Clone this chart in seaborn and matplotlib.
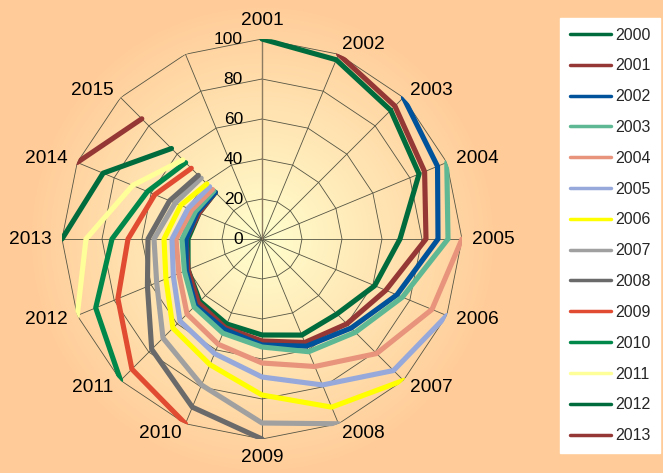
import numpy as np
import pandas as pd
import matplotlib
matplotlib.use('Agg')
import matplotlib.pyplot as plt
import matplotlib.transforms as mtransforms
from matplotlib.lines import Line2D
import seaborn as sns

# spokes of the radar, clockwise from the top (last spoke has no label)
categories = ['2001', '2002', '2003', '2004', '2005', '2006', '2007', '2008',
              '2009', '2010', '2011', '2012', '2013', '2014', '2015', '']
cohorts = ['2000', '2001', '2002', '2003', '2004', '2005', '2006',
           '2007', '2008', '2009', '2010', '2011', '2012', '2013']
colors = ['#006B3C', '#953735', '#00529B', '#5DB893', '#E8937C', '#97A9DA',
          '#FFFF00', '#A0A0A0', '#6A6A6A', '#E04B32', '#00874A', '#FFFF99',
          '#006B3C', '#953735']
ring_ticks = [0, 20, 40, 60, 80, 100]

# each cohort starts on the spoke after its own year
v2000 = [100, 97, 91, 85, 69, 61, 53, 52, 48, 46, 44, 40, 37, 34, 33]
v2001 = [100, 94, 88, 82, 67, 60, 56, 51, 48, 45, 40, 38, 34, 33]
v2002 = [100, 95, 88, 73, 63, 58, 53, 49, 47, 41, 38, 35, 33]
v2003 = [100, 93, 76, 66, 61, 54, 51, 48, 42, 40, 36, 34]
v2004 = [100, 92, 81, 69, 62, 57, 53, 45, 43, 38, 35]
v2005 = [100, 93, 79, 69, 62, 58, 48, 45, 40, 37]
v2006 = [100, 91, 78, 68, 63, 52, 49, 44, 39]
v2007 = [100, 92, 79, 70, 57, 54, 47, 43]
v2008 = [100, 91, 78, 62, 57, 50, 45]
v2009 = [100, 92, 78, 67, 58, 50]
v2010 = [100, 90, 75, 62, 54]
v2011 = [100, 88, 70, 56]
v2012 = [100, 86, 64]
v2013 = [100, 85]

series = [v2000, v2001, v2002, v2003, v2004, v2005, v2006,
          v2007, v2008, v2009, v2010, v2011, v2012, v2013]

angles = np.deg2rad(np.arange(len(categories)) * 360.0 / len(categories))

rows = []
for i, (name, vals) in enumerate(zip(cohorts, series)):
    for j, v in enumerate(vals):
        rows.append({'cohort': name, 'theta': angles[i + j], 'value': v})
df = pd.DataFrame(rows)

sns.set_theme(style='white')
plt.rcParams['font.family'] = ['Liberation Sans', 'DejaVu Sans']

W, H = 663, 473
fig = plt.figure(figsize=(W / 100, H / 100), dpi=100)
fig.patch.set_facecolor('#FFCC99')

# radial background gradient
cx, cy, R = 262, 239, 235
bg = fig.add_axes([0, 0, 1, 1], zorder=-5)
bg.axis('off')
yy, xx = np.mgrid[0:H, 0:W]
t = np.clip(np.hypot(xx - cx, yy - cy) / R, 0, 1)[..., None]
c0 = np.array([255, 255, 206]) / 255
c1 = np.array([255, 204, 153]) / 255
bg.imshow(c0 * (1 - t) + c1 * t, aspect='auto', extent=(0, 1, 0, 1))
bg.set_xlim(0, 1)
bg.set_ylim(0, 1)

rad = 200
ax = fig.add_axes([(cx - rad) / W, (H - cy - rad) / H, 2 * rad / W, 2 * rad / H],
                  projection='polar')
ax.set_facecolor('none')
ax.set_theta_zero_location('N')
ax.set_theta_direction(-1)
ax.set_ylim(0, 100)
ax.grid(False)
ax.set_xticks([])
ax.set_yticks([])
ax.spines['polar'].set_visible(False)

# polygon grid
closed = np.append(angles, angles[0])
for r in ring_ticks[1:]:
    ax.plot(closed, [r] * len(closed), color='#555544', lw=0.6, zorder=1)
for a in angles:
    ax.plot([a, a], [0, 100], color='#555544', lw=0.6, zorder=1)
ax.plot([0, 0], [0, 100], color='#8C7B60', lw=1.0, zorder=1)

sns.lineplot(data=df, x='theta', y='value', hue='cohort', hue_order=cohorts,
             palette=colors, lw=3.7, estimator=None, sort=False,
             legend=False, ax=ax, zorder=3)
ax.set_xlabel('')
ax.set_ylabel('')

# value labels left of the top spoke
off = mtransforms.offset_copy(ax.transData, fig=fig, x=-19, y=0, units='dots')
for r in ring_ticks:
    ax.text(0, r, str(r), transform=off, ha='right', va='center',
            fontsize=12.5, color='black')

# category labels
for a, lab in zip(angles, categories):
    s, c = np.sin(a), np.cos(a)
    ha = 'left' if s > 0.1 else ('right' if s < -0.1 else 'center')
    va = 'bottom' if c > 0.95 else ('top' if c < -0.95 else 'center')
    ax.text(a, 105, lab, ha=ha, va=va, fontsize=13.8, color='black')

handles = [Line2D([0], [0], color=col, lw=2.5) for col in colors]
fig.legend(handles, cohorts, loc='upper left',
           bbox_to_anchor=(560 / W, 1 - 18 / H), borderaxespad=0,
           frameon=True, facecolor='white', edgecolor='white', fancybox=False,
           framealpha=1, fontsize=11.5, labelspacing=0.99, handlelength=2.6,
           handletextpad=0.25, borderpad=0.6)

fig.savefig('out.png', dpi=100, facecolor=fig.get_facecolor())
